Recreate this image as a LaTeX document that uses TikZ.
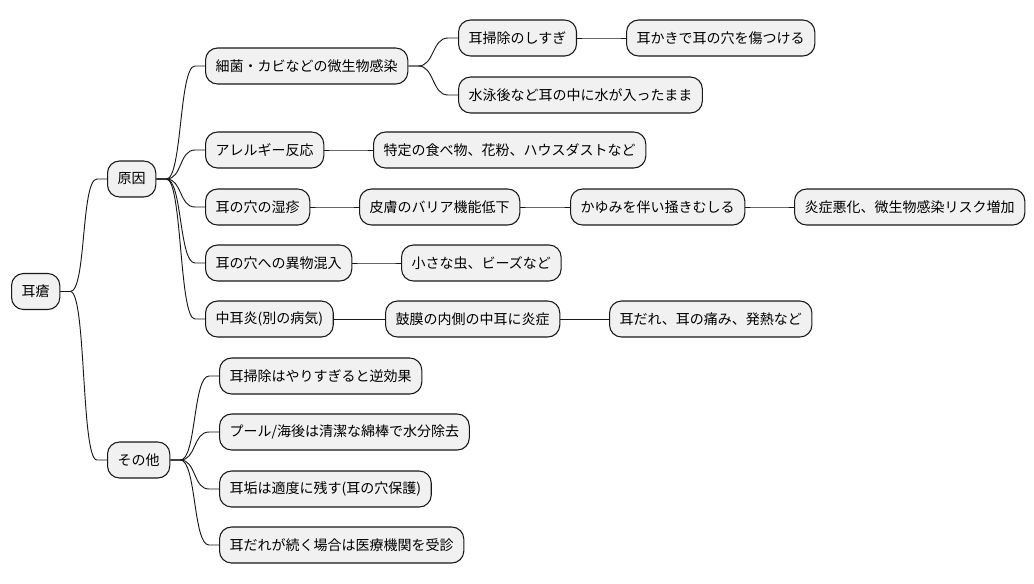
\documentclass[tikz,border=0pt]{standalone}
\usepackage{fontspec}
\setmainfont{Noto Sans CJK JP}
\usetikzlibrary{calc}
\definecolor{boxfill}{HTML}{F1F1F1}
\definecolor{boxline}{HTML}{181818}

\begin{document}
\begin{tikzpicture}[x=0.75pt,y=-0.75pt,font=\fontsize{10.5pt}{12pt}\selectfont]
\tikzstyle{topic}=[draw=boxline,fill=boxfill,line width=0.8pt,rounded corners=9pt,minimum height=27pt,inner xsep=7.6pt,inner ysep=0pt,anchor=west]
\tikzstyle{link}=[draw=boxline,line width=0.7pt,to path={(\tikztostart) -- ++(10,0) .. controls ($(\tikztostart)+(26,0)$) and ($(\tikztotarget)+(-26,0)$) .. ($(\tikztotarget)+(-10,0)$) -- (\tikztotarget)}]
\useasboundingbox (0,0) rectangle (1034,583);
\node[topic] (root) at (11,291.5) {耳瘡};
\node[topic] (cause) at (107,179) {原因};
\node[topic] (other) at (107,460) {その他};
\node[topic] (c1) at (205,66) {細菌・カビなどの微生物感染};
\node[topic] (c1a) at (458,38) {耳掃除のしすぎ};
\node[topic] (c1a1) at (626,38) {耳かきで耳の穴を傷つける};
\node[topic] (c1b) at (458,95) {水泳後など耳の中に水が入ったまま};
\node[topic] (c2) at (205,150) {アレルギー反応};
\node[topic] (c2a) at (373,150) {特定の食べ物、花粉、ハウスダストなど};
\node[topic] (c3) at (205,207) {耳の穴の湿疹};
\node[topic] (c3a) at (359,207) {皮膚のバリア機能低下};
\node[topic] (c3b) at (570,207) {かゆみを伴い掻きむしる};
\node[topic] (c3c) at (794,207) {炎症悪化、微生物感染リスク増加};
\node[topic] (c4) at (205,263) {耳の穴への異物混入};
\node[topic] (c4a) at (401,263) {小さな虫、ビーズなど};
\node[topic] (c5) at (205,319) {中耳炎(別の病気)};
\node[topic] (c5a) at (385,319) {鼓膜の内側の中耳に炎症};
\node[topic] (c5b) at (609,319) {耳だれ、耳の痛み、発熱など};
\node[topic] (o1) at (219,376) {耳掃除はやりすぎると逆効果};
\node[topic] (o2) at (219,432) {プール/海後は清潔な綿棒で水分除去};
\node[topic] (o3) at (219,489) {耳垢は適度に残す(耳の穴保護)};
\node[topic] (o4) at (219,545) {耳だれが続く場合は医療機関を受診};
\draw[link] (root.east) to (cause.west);
\draw[link] (root.east) to (other.west);
\foreach \n in {c1,c2,c3,c4,c5} \draw[link] (cause.east) to (\n.west);
\foreach \n in {o1,o2,o3,o4} \draw[link] (other.east) to (\n.west);
\draw[link] (c1.east) to (c1a.west);
\draw[link] (c1.east) to (c1b.west);
\draw[link] (c1a.east) to (c1a1.west);
\draw[link] (c2.east) to (c2a.west);
\draw[link] (c3.east) to (c3a.west);
\draw[link] (c3a.east) to (c3b.west);
\draw[link] (c3b.east) to (c3c.west);
\draw[link] (c4.east) to (c4a.west);
\draw[link] (c5.east) to (c5a.west);
\draw[link] (c5a.east) to (c5b.west);
\end{tikzpicture}
\end{document}
